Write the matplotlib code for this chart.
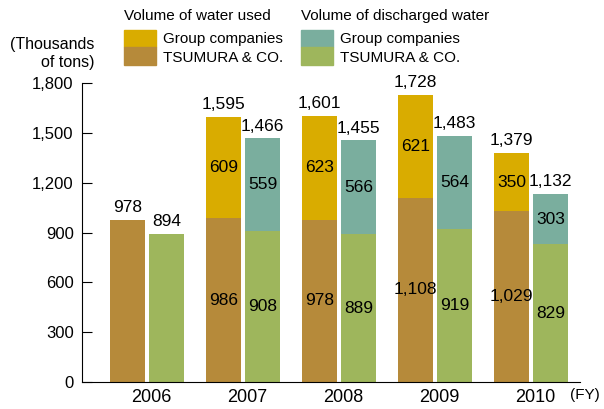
import matplotlib

matplotlib.use("Agg")
import matplotlib.pyplot as plt
from matplotlib.patches import Rectangle
import numpy as np

plt.rcParams["font.family"] = ["Liberation Sans", "DejaVu Sans"]

years = ["2006", "2007", "2008", "2009", "2010"]
used_tsumura = [978, 986, 978, 1108, 1029]
used_group = [0, 609, 623, 621, 350]
used_total = [978, 1595, 1601, 1728, 1379]
disch_tsumura = [894, 908, 889, 919, 829]
disch_group = [0, 559, 566, 564, 303]
disch_total = [894, 1466, 1455, 1483, 1132]
yticks = [0, 300, 600, 900, 1200, 1500, 1800]

c_gold = "#D9AC00"
c_brown = "#B68A3A"
c_teal = "#7AAE9E"
c_green = "#9EB65C"

fig = plt.figure(figsize=(6.04, 4.09), dpi=100)
ax = fig.add_axes([0.1358, 0.066, 0.8245, 0.731])

x = np.arange(len(years))
w = 0.365
off = 0.2025

ax.bar(x - off, used_tsumura, w, color=c_brown)
ax.bar(x - off, used_group, w, bottom=used_tsumura, color=c_gold)
ax.bar(x + off, disch_tsumura, w, color=c_green)
ax.bar(x + off, disch_group, w, bottom=disch_tsumura, color=c_teal)

fs = 12.5
for i in range(len(years)):
    ax.text(x[i] - off, used_total[i] + 28, f"{used_total[i]:,}", ha="center", va="bottom", fontsize=fs)
    ax.text(x[i] + off, disch_total[i] + 28, f"{disch_total[i]:,}", ha="center", va="bottom", fontsize=fs)
    if used_group[i] > 0:
        ax.text(x[i] - off, used_tsumura[i] / 2, f"{used_tsumura[i]:,}", ha="center", va="center", fontsize=fs)
        ax.text(x[i] - off, used_tsumura[i] + used_group[i] / 2, f"{used_group[i]:,}", ha="center", va="center", fontsize=fs)
    if disch_group[i] > 0:
        ax.text(x[i] + off, disch_tsumura[i] / 2, f"{disch_tsumura[i]:,}", ha="center", va="center", fontsize=fs)
        ax.text(x[i] + off, disch_tsumura[i] + disch_group[i] / 2, f"{disch_group[i]:,}", ha="center", va="center", fontsize=fs)

ax.set_xlim(-0.677, 4.51)
ax.set_ylim(0, 1800)
ax.set_yticks(yticks)
ax.set_yticklabels([f"{t:,}" for t in yticks], fontsize=12)
ax.set_xticks(x + 0.04)
ax.set_xticklabels(years, fontsize=13)
ax.tick_params(axis="y", direction="in", length=7, width=0.8, pad=6)
ax.tick_params(axis="x", length=0, pad=5)
for s in ["top", "right"]:
    ax.spines[s].set_visible(False)
for s in ["left", "bottom"]:
    ax.spines[s].set_linewidth(0.8)

fig.text(0.943, 0.016, "(FY)", fontsize=11, ha="left", va="bottom")
fig.text(0.157, 0.87, "(Thousands\nof tons)", fontsize=11.5, ha="right", va="center", linespacing=1.25)

# legend drawn by hand in figure pixels
W, H = 604, 409


def px(xp, yp):
    return xp / W, 1 - yp / H


groups = [
    (124, "Volume of water used", c_gold, c_brown),
    (301, "Volume of discharged water", c_teal, c_green),
]
for x0, title, top_c, bot_c in groups:
    fig.text(*px(x0, 16), title, fontsize=11, ha="left", va="center")
    fig.patches.append(Rectangle(px(x0, 47), 32 / W, 17 / H, transform=fig.transFigure, color=top_c))
    fig.patches.append(Rectangle(px(x0, 65), 32 / W, 18 / H, transform=fig.transFigure, color=bot_c))
    fig.text(*px(x0 + 39, 39), "Group companies", fontsize=11, ha="left", va="center")
    fig.text(*px(x0 + 39, 58), "TSUMURA & CO.", fontsize=11, ha="left", va="center")

plt.savefig("out.png", dpi=100)
plt.close()
